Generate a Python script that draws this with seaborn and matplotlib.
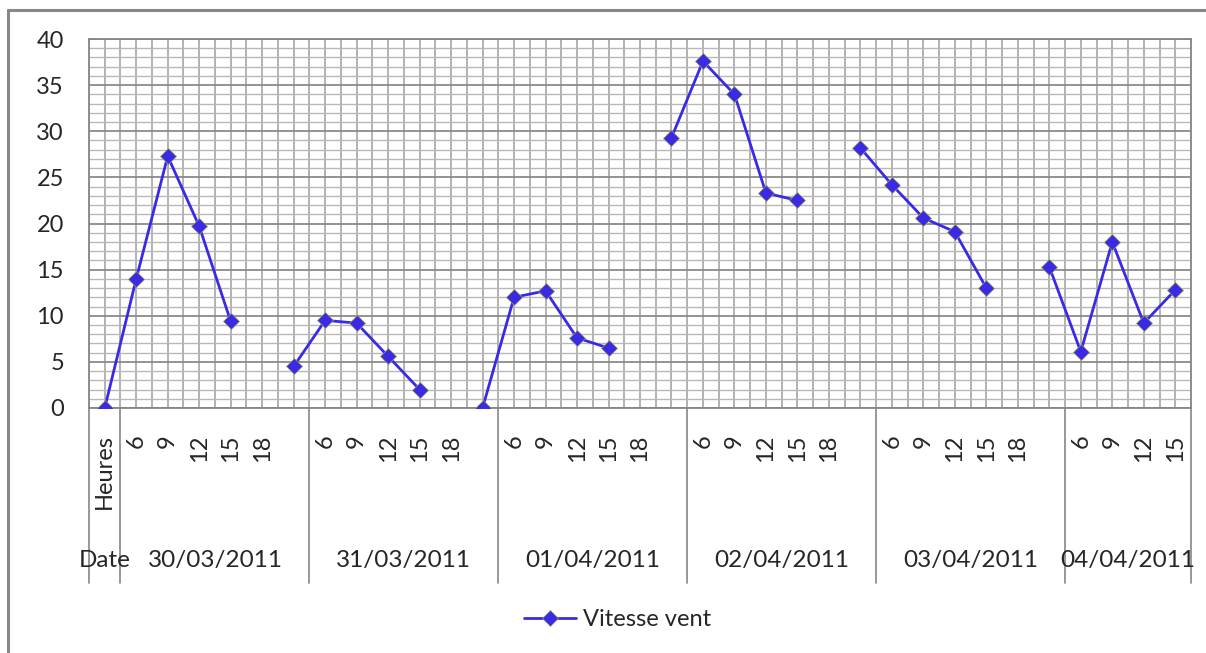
import numpy as np
import pandas as pd
import matplotlib
matplotlib.use("Agg")
import matplotlib.pyplot as plt
from matplotlib.lines import Line2D
import seaborn as sns

# hour labels per category (first one is the header column)
hours = ["Heures",
         "6", "9", "12", "15", "18", "",
         "6", "9", "12", "15", "18", "",
         "6", "9", "12", "15", "18", "",
         "6", "9", "12", "15", "18", "",
         "6", "9", "12", "15", "18", "",
         "6", "9", "12", "15"]
dates = ["30/03/2011", "31/03/2011", "01/04/2011", "02/04/2011", "03/04/2011", "04/04/2011"]
date_sizes = [6, 6, 6, 6, 6, 4]
vitesse = [0.0,
           14.0, 27.3, 19.7, 9.4, np.nan, 4.5,
           9.5, 9.2, 5.6, 2.0, np.nan, 0.0,
           12.0, 12.7, 7.6, 6.5, np.nan, 29.3,
           37.6, 34.0, 23.3, 22.5, np.nan, 28.2,
           24.2, 20.6, 19.1, 13.0, np.nan, 15.3,
           6.1, 18.0, 9.2, 12.8]

df = pd.DataFrame({"pos": np.arange(len(hours)), "heure": hours, "vitesse": vitesse})
df["segment"] = df["vitesse"].isna().cumsum()
df = df.dropna()

sns.set_style("white")
plt.rcParams["font.family"] = ["Lato", "DejaVu Sans"]

W, H = 1206, 653
fig = plt.figure(figsize=(W / 100, H / 100), dpi=100)
ax = fig.add_axes([89 / W, 1 - 408 / H, (1191 - 89) / W, (408 - 39) / H])

line_col = "#3a2ae6"
sns.lineplot(data=df, x="pos", y="vitesse", units="segment", estimator=None,
             color=line_col, linewidth=2.0, marker="D", markersize=8.5,
             markeredgecolor="#9aa24a", markeredgewidth=0.5, ax=ax, zorder=5)

n = len(hours)
ax.set_xlim(-0.5, n - 0.5)
ax.set_ylim(0, 40)

# grid
ax.set_xticks(np.arange(n))
ax.set_xticks(np.arange(n + 1) - 0.5, minor=True)
ax.set_yticks(np.arange(0, 41, 5))
ax.set_yticks(np.arange(0, 41, 1), minor=True)
ax.grid(which="major", axis="y", color="#8a8a8a", linewidth=1.3)
ax.grid(which="minor", axis="y", color="#b8b8b8", linewidth=1.0)
ax.grid(which="both", axis="x", color="#a6a6a6", linewidth=1.2)
ax.set_axisbelow(True)

ax.set_xticklabels(hours, rotation=90, fontsize=17)
ax.tick_params(axis="x", which="both", length=0, pad=19)
ax.tick_params(axis="y", which="both", length=0, pad=18, labelsize=17)
ax.set_xlabel("")
ax.set_ylabel("")
for s in ax.spines.values():
    s.set_color("#868686")
    s.set_linewidth(1.3)

# second level of the category axis (dates)
trans = ax.get_xaxis_transform()
bounds = [-0.5, 0.5]
for size in date_sizes:
    bounds.append(bounds[-1] + size)
for b in bounds:
    ax.plot([b, b], [0, -0.474], transform=trans, color="#868686",
            linewidth=1.2, clip_on=False)
ax.text(0, -0.412, "Date", transform=trans, ha="center", va="center", fontsize=17.5)
for i, d in enumerate(dates):
    c = (bounds[i + 1] + bounds[i + 2]) / 2
    ax.text(c, -0.412, d, transform=trans, ha="center", va="center", fontsize=17.5)

# legend
handle = Line2D([], [], color=line_col, linewidth=2.0, marker="D", markersize=8.5,
                markeredgecolor="#9aa24a", markeredgewidth=0.5)
fig.legend([handle], ["Vitesse vent"], loc="center", bbox_to_anchor=(618 / W, 1 - 620 / H),
           frameon=False, fontsize=17, handlelength=2.2, handletextpad=0.3)

# chart frame (only top and left visible)
fig.add_artist(Line2D([8 / W, 1], [1 - 10 / H, 1 - 10 / H], transform=fig.transFigure,
                      color="#888888", linewidth=2.2))
fig.add_artist(Line2D([8 / W, 8 / W], [0, 1 - 10 / H], transform=fig.transFigure,
                      color="#888888", linewidth=2.2))

fig.savefig("out.png", dpi=100)
